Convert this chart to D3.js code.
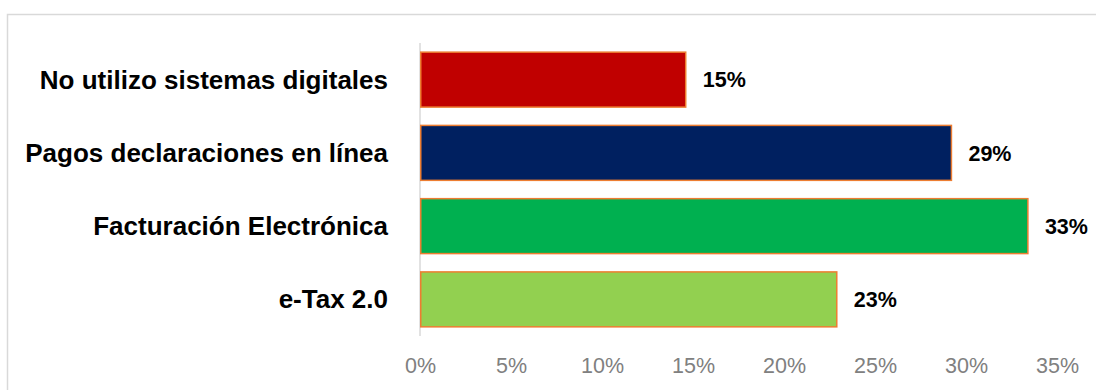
<!DOCTYPE html>
<html>
<head>
<meta charset="utf-8">
<script src="https://cdn.jsdelivr.net/npm/d3@7"></script>
<style>
  body { margin: 0; background: #fff; }
  svg { display: block; }
</style>
</head>
<body>
<svg id="chart" width="1096" height="390"></svg>
<script>
var categories = ['No utilizo sistemas digitales', 'Pagos declaraciones en línea', 'Facturación Electrónica', 'e-Tax 2.0'];
var values = [0.146, 0.292, 0.334, 0.229];
var barColors = ['#c00000', '#002060', '#00b050', '#92d050'];
var ticks = [0, 0.05, 0.10, 0.15, 0.20, 0.25, 0.30, 0.35];

var svg = d3.select('#chart');

// frame (top and left edges only are visible)
svg.append('path')
  .attr('d', 'M7.5,390V14.5H1096')
  .attr('fill', 'none')
  .attr('stroke', '#d9d9d9')
  .attr('stroke-width', 1.5);

var x = d3.scaleLinear().domain([0, 0.35]).range([420, 1057]);
var y = d3.scaleBand().domain(categories).range([43, 336]).paddingInner(0.25).paddingOuter(0.125);

var data = categories.map(function(c, i) {
  return {name: c, value: values[i], color: barColors[i]};
});

// vertical axis line
svg.append('line')
  .attr('x1', x(0)).attr('x2', x(0))
  .attr('y1', 43).attr('y2', 336)
  .attr('stroke', '#d9d9d9')
  .attr('stroke-width', 1.5);

svg.selectAll('rect.bar')
  .data(data)
  .enter()
  .append('rect')
  .attr('class', 'bar')
  .attr('x', x(0) + 0.75)
  .attr('y', function(d) { return y(d.name); })
  .attr('width', function(d) { return x(d.value) - x(0) - 0.75; })
  .attr('height', y.bandwidth())
  .attr('fill', function(d) { return d.color; })
  .attr('stroke', '#ed7d31')
  .attr('stroke-width', 1.5);

// value labels
svg.selectAll('text.val')
  .data(data)
  .enter()
  .append('text')
  .attr('class', 'val')
  .attr('x', function(d) { return x(d.value) + 17; })
  .attr('y', function(d) { return y(d.name) + y.bandwidth() / 2; })
  .attr('dy', '0.36em')
  .attr('font-family', 'Liberation Sans, Arial, sans-serif')
  .attr('font-weight', 'bold')
  .attr('font-size', '21.5px')
  .attr('fill', '#000')
  .text(function(d) { return d3.format('.0%')(d.value); });

// category labels
svg.selectAll('text.cat')
  .data(data)
  .enter()
  .append('text')
  .attr('class', 'cat')
  .attr('x', 388)
  .attr('y', function(d) { return y(d.name) + y.bandwidth() / 2; })
  .attr('dy', '0.35em')
  .attr('text-anchor', 'end')
  .attr('font-family', 'Liberation Sans, Arial, sans-serif')
  .attr('font-weight', 'bold')
  .attr('font-size', '26px')
  .attr('fill', '#000')
  .text(function(d) { return d.name; });

// x axis
var xAxis = d3.axisBottom(x)
  .tickValues(ticks)
  .tickFormat(d3.format('.0%'))
  .tickSize(0)
  .tickPadding(0);

var gx = svg.append('g')
  .attr('transform', 'translate(0,373)')
  .call(xAxis);
gx.select('.domain').remove();
gx.selectAll('text')
  .attr('dy', 0)
  .attr('font-family', 'Liberation Sans, Arial, sans-serif')
  .attr('font-size', '21.5px')
  .attr('fill', '#808080');
</script>
</body>
</html>
